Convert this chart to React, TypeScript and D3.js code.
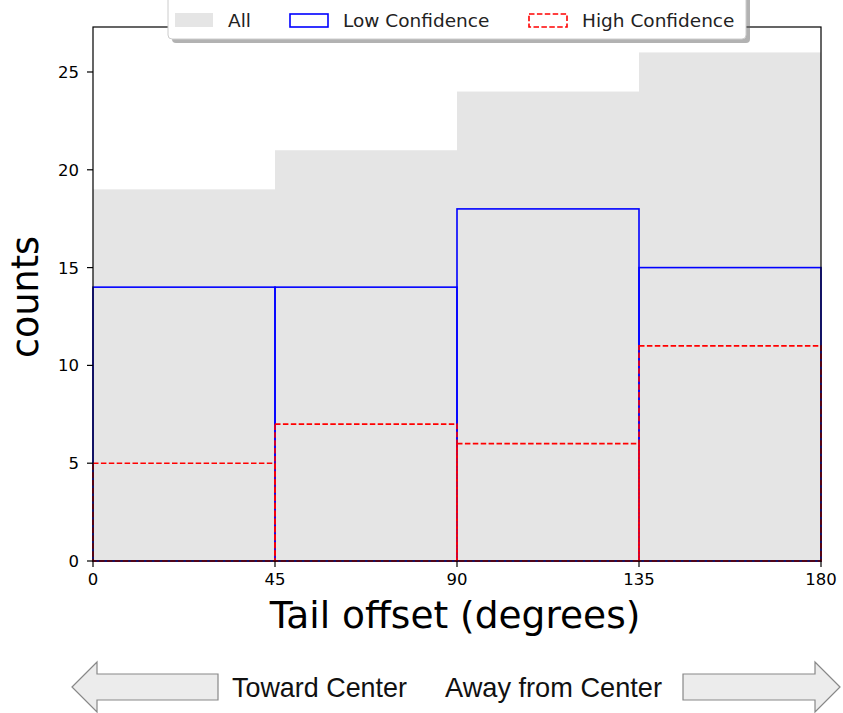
import React from "react";
import * as d3 from "d3";

// Histogram bins (degrees) and counts per bin
const binEdges = [0, 45, 90, 135, 180];
const allCounts = [19, 21, 24, 26];
const lowCounts = [14, 14, 18, 15];
const highCounts = [5, 7, 6, 11];
const yTicks = [0, 5, 10, 15, 20, 25];
const xTicks = [0, 45, 90, 135, 180];
const legendLabels = ["All", "Low Confidence", "High Confidence"];

const W = 843;
const H = 713;
const plot = { left: 93, right: 821, top: 27, bottom: 561 };

export default function App() {
  const x = d3.scaleLinear().domain([0, 180]).range([plot.left, plot.right]);
  const y = d3.scaleLinear().domain([0, 27.3]).range([plot.bottom, plot.top]);
  const font = "DejaVu Sans, sans-serif";

  const bars = (vals: number[]) =>
    vals.map((v, i) => ({ x0: x(binEdges[i]), x1: x(binEdges[i + 1]), y: y(v), v }));

  const leftArrow = d3.path();
  leftArrow.moveTo(72, 687);
  leftArrow.lineTo(97, 662);
  leftArrow.lineTo(97, 674);
  leftArrow.lineTo(218, 674);
  leftArrow.lineTo(218, 700);
  leftArrow.lineTo(97, 700);
  leftArrow.lineTo(97, 712);
  leftArrow.closePath();

  const rightArrow = d3.path();
  rightArrow.moveTo(840, 687);
  rightArrow.lineTo(815, 662);
  rightArrow.lineTo(815, 674);
  rightArrow.lineTo(683, 674);
  rightArrow.lineTo(683, 700);
  rightArrow.lineTo(815, 700);
  rightArrow.lineTo(815, 712);
  rightArrow.closePath();

  return (
    <svg
      width={W}
      height={H}
      style={{ position: "absolute", left: 0, top: 0, background: "#fff" }}
      fontFamily={font}
    >
      {/* All: filled bars */}
      {bars(allCounts).map((b, i) => (
        <rect key={"a" + i} x={b.x0} y={b.y} width={b.x1 - b.x0} height={plot.bottom - b.y} fill="#e5e5e5" />
      ))}
      {/* Low confidence: outlined bars */}
      {bars(lowCounts).map((b, i) => (
        <rect key={"l" + i} x={b.x0} y={b.y} width={b.x1 - b.x0} height={plot.bottom - b.y}
          fill="none" stroke="#0000ff" strokeWidth={1.6} />
      ))}
      {/* High confidence: dashed outlined bars */}
      {bars(highCounts).map((b, i) => (
        <rect key={"h" + i} x={b.x0} y={b.y} width={b.x1 - b.x0} height={plot.bottom - b.y}
          fill="none" stroke="#ff0000" strokeWidth={1.6} strokeDasharray="5.5,2.4" />
      ))}

      {/* Axes frame */}
      <rect x={plot.left} y={plot.top} width={plot.right - plot.left} height={plot.bottom - plot.top}
        fill="none" stroke="#000" strokeWidth={1.2} />

      {/* Y ticks */}
      {yTicks.map((t) => (
        <g key={"y" + t}>
          <line x1={plot.left - 6} x2={plot.left} y1={y(t)} y2={y(t)} stroke="#000" strokeWidth={1.2} />
          <text x={plot.left - 14} y={y(t)} dy="0.36em" textAnchor="end" fontSize={16.5} fill="#000">{t}</text>
        </g>
      ))}
      {/* X ticks */}
      {xTicks.map((t) => (
        <g key={"x" + t}>
          <line x1={x(t)} x2={x(t)} y1={plot.bottom} y2={plot.bottom + 6} stroke="#000" strokeWidth={1.2} />
          <text x={x(t)} y={plot.bottom + 24} textAnchor="middle" fontSize={16.5} fill="#000">{t}</text>
        </g>
      ))}

      {/* Axis labels */}
      <text transform="translate(38,297) rotate(-90)" textAnchor="middle" fontSize={36.5} fill="#000">counts</text>
      <text x={455} y={628} textAnchor="middle" fontSize={37.5} fill="#000">Tail offset (degrees)</text>

      {/* Legend */}
      <g>
        <rect x={172} y={-9} width={578} height={52} rx={4} fill="#666" opacity={0.5} />
        <rect x={168} y={-13} width={578} height={52} rx={4} fill="#fff" stroke="#ccc" strokeWidth={1} />
        <rect x={175} y={13} width={38} height={14} fill="#e5e5e5" />
        <text x={228} y={27} fontSize={18.5} fill="#222">{legendLabels[0]}</text>
        <rect x={290} y={14} width={38} height={13} fill="none" stroke="#0000ff" strokeWidth={1.6} />
        <text x={343} y={27} fontSize={18.5} fill="#222">{legendLabels[1]}</text>
        <rect x={529} y={14} width={38} height={13} fill="none" stroke="#ff0000" strokeWidth={1.6} strokeDasharray="5.5,2.4" />
        <text x={582} y={27} fontSize={18.5} fill="#222">{legendLabels[2]}</text>
      </g>

      {/* Direction arrows */}
      <path d={leftArrow.toString()} fill="#ececec" stroke="#888" strokeWidth={1.2} />
      <path d={rightArrow.toString()} fill="#ececec" stroke="#888" strokeWidth={1.2} />
      <text x={232} y={697} fontSize={28} fontFamily="Liberation Sans, Arial, sans-serif" fill="#111"
        textLength={175} lengthAdjust="spacingAndGlyphs">Toward Center</text>
      <text x={445} y={697} fontSize={28} fontFamily="Liberation Sans, Arial, sans-serif" fill="#111"
        textLength={217} lengthAdjust="spacingAndGlyphs">Away from Center</text>
    </svg>
  );
}
